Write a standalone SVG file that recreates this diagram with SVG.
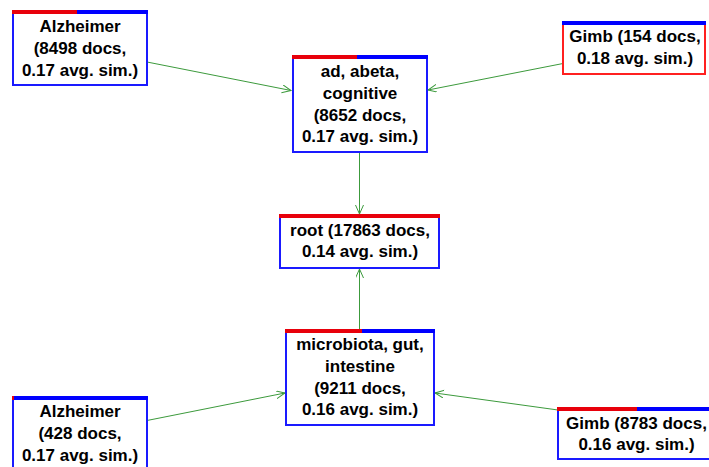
<svg xmlns="http://www.w3.org/2000/svg" width="709" height="467" viewBox="0 0 709 467">
<style>
.box{fill:#fff;stroke:#1a1aff;stroke-width:2}
.boxr{fill:#fff;stroke:#ff2020;stroke-width:2}
.r{fill:#e8000b}
.b{fill:#0000ff}
text{font-family:"Liberation Sans",Arial,sans-serif;font-weight:bold;font-size:17px;fill:#000;text-anchor:middle}
.e{stroke:#3c9a3c;stroke-width:1;fill:none;marker-end:url(#arr)}
</style>
<defs>
<marker id="arr" markerUnits="userSpaceOnUse" markerWidth="12" markerHeight="10" refX="9" refY="4" orient="auto">
<path d="M0,0 L9,4 L0,8" fill="none" stroke="#3c9a3c" stroke-width="1"/>
</marker>
</defs>
<g id="connectors">
<line class="e" x1="147" y1="62" x2="291" y2="90.5"/>
<line class="e" x1="563" y1="63.5" x2="428" y2="90"/>
<line class="e" x1="359.5" y1="152" x2="359.5" y2="214"/>
<line class="e" x1="359.5" y1="330" x2="359.5" y2="269"/>
<line class="e" x1="147" y1="420.5" x2="285" y2="393"/>
<line class="e" x1="558" y1="410" x2="435" y2="393"/>
</g>
<g id="n1">
<rect class="box" x="13" y="11" width="134" height="74"/>
<rect class="r" x="12" y="10" width="65" height="4"/>
<rect class="b" x="77" y="10" width="71" height="4"/>
<text x="80" y="32">Alzheimer</text>
<text x="80" y="54">(8498 docs,</text>
<text x="80" y="76">0.17 avg. sim.)</text>
</g>
<g id="n2">
<rect class="box" x="293" y="56" width="134" height="96"/>
<rect class="r" x="292" y="55" width="65" height="4"/>
<rect class="b" x="357" y="55" width="71" height="4"/>
<text x="360" y="77">ad, abeta,</text>
<text x="360" y="99">cognitive</text>
<text x="360" y="120.5">(8652 docs,</text>
<text x="360" y="142">0.17 avg. sim.)</text>
</g>
<g id="n3">
<rect class="boxr" x="563" y="22" width="142" height="52"/>
<rect class="b" x="562" y="21" width="144" height="4"/>
<text x="635" y="42">Gimb (154 docs,</text>
<text x="635" y="64">0.18 avg. sim.)</text>
</g>
<g id="n4">
<rect class="box" x="280" y="215" width="159" height="53"/>
<rect class="r" x="279" y="214" width="161" height="4"/>
<text x="360" y="235.5">root (17863 docs,</text>
<text x="360" y="257">0.14 avg. sim.)</text>
</g>
<g id="n5">
<rect class="box" x="286" y="330" width="148" height="95"/>
<rect class="r" x="285" y="329" width="77" height="4"/>
<rect class="b" x="362" y="329" width="73" height="4"/>
<text x="360" y="350">microbiota, gut,</text>
<text x="360" y="372">intestine</text>
<text x="360" y="393.5">(9211 docs,</text>
<text x="360" y="415">0.16 avg. sim.)</text>
</g>
<g id="n6">
<rect class="box" x="13" y="397" width="134" height="80"/>
<rect class="b" x="12" y="396" width="136" height="4"/>
<rect class="r" x="12" y="396" width="2" height="4"/>
<text x="80" y="417">Alzheimer</text>
<text x="80" y="439">(428 docs,</text>
<text x="80" y="461">0.17 avg. sim.)</text>
</g>
<g id="n7">
<rect class="box" x="558" y="408" width="158" height="51"/>
<rect class="r" x="557" y="407" width="80" height="4"/>
<rect class="b" x="637" y="407" width="80" height="4"/>
<text x="636.5" y="428.5">Gimb (8783 docs,</text>
<text x="636.5" y="450">0.16 avg. sim.)</text>
</g>
</svg>
